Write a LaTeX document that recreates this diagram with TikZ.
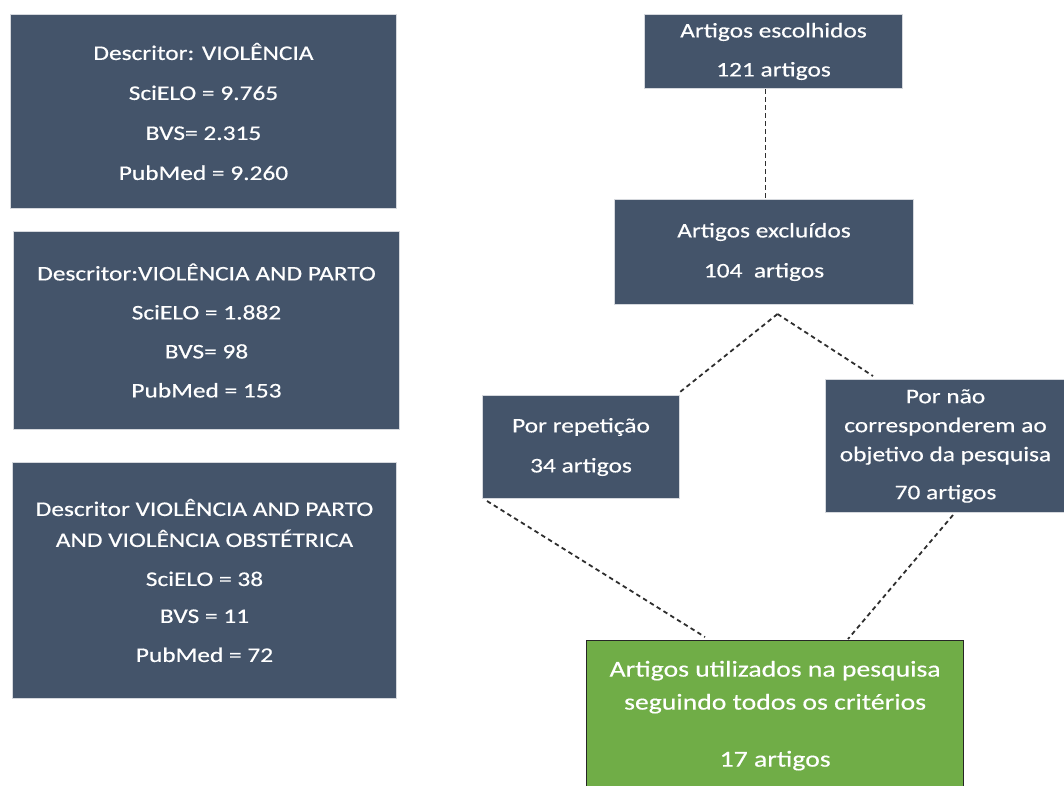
\documentclass[tikz,border=0pt]{standalone}
\usepackage{fontspec}
\setmainfont{Carlito}[FakeStretch=1.22,FakeBold=0.4]
\definecolor{slate}{HTML}{44546A}
\definecolor{leaf}{HTML}{70AD47}
\definecolor{edgegray}{HTML}{D5D8DD}
\definecolor{dashgray}{HTML}{2E2E2E}
\begin{document}
\begin{tikzpicture}[x=1pt,y=-1pt,
  darkbox/.style={anchor=north west, fill=slate, draw=edgegray, line width=1pt,
    inner sep=0pt, align=center, text=white},
  greenbox/.style={anchor=north west, fill=leaf, draw=black!85, line width=1.3pt,
    inner sep=0pt, align=center, text=white},
  conn/.style={draw=dashgray, line width=1.8pt, dash pattern=on 4.5pt off 3.5pt}]
\useasboundingbox (0,0) rectangle (1064,785);

% left column
\node[darkbox, minimum width=386pt, minimum height=194pt,
  font=\fontsize{20.8}{40}\selectfont] (b1) at (10,14)
  {Descritor: VIOLÊNCIA\\SciELO = 9.765\\BVS= 2.315\\PubMed = 9.260};
\node[darkbox, minimum width=386pt, minimum height=198pt,
  font=\fontsize{20.8}{39}\selectfont] (b2) at (13,231)
  {Descritor:VIOLÊNCIA AND PARTO\\SciELO = 1.882\\BVS= 98\\PubMed = 153};
\node[darkbox, minimum width=384pt, minimum height=236pt,
  font=\fontsize{20.8}{31}\selectfont] (b3) at (12,462)
  {Descritor VIOLÊNCIA AND PARTO\\AND VIOLÊNCIA OBSTÉTRICA\\[8pt]SciELO = 38\\[6pt]BVS = 11\\[8pt]PubMed = 72};

% right flow
\node[darkbox, minimum width=258pt, minimum height=74pt,
  font=\fontsize{20.8}{39}\selectfont] (top) at (644,14)
  {Artigos escolhidos\\121 artigos};
\node[darkbox, minimum width=299pt, minimum height=105pt,
  font=\fontsize{20.8}{40}\selectfont] (excl) at (614,199)
  {Artigos excluídos\\104~~artigos};
\node[darkbox, minimum width=197pt, minimum height=103pt,
  font=\fontsize{20.8}{40}\selectfont] (rep) at (482,395)
  {Por repetição\\34 artigos};
\node[darkbox, minimum width=240pt, minimum height=133pt,
  font=\fontsize{20.8}{29}\selectfont] (obj) at (825,379)
  {Por não\\corresponderem ao\\objetivo da pesquisa\\[9pt]70 artigos};
\node[greenbox, minimum width=377pt, minimum height=150pt,
  font=\fontsize{22.7}{33}\selectfont] (used) at (586,640)
  {Artigos utilizados na pesquisa\\seguindo todos os critérios\\[24pt]17 artigos};

% connectors
\coordinate (apex) at ([xshift=13.5pt,yshift=-9pt]excl.south);
\draw[conn] ([xshift=-8pt]top.south) -- ([xshift=1.5pt]excl.north);
\draw[conn] (apex) -- ([yshift=3pt]rep.north east);
\draw[conn] (apex) -- ([xshift=48pt,yshift=3pt]obj.north west);
\draw[conn] ([xshift=5pt,yshift=-2pt]rep.south west) -- ([xshift=119pt,yshift=3pt]used.north west);
\draw[conn] ([xshift=128pt,yshift=-2pt]obj.south west) -- ([xshift=262pt,yshift=1pt]used.north west);
\end{tikzpicture}
\end{document}
